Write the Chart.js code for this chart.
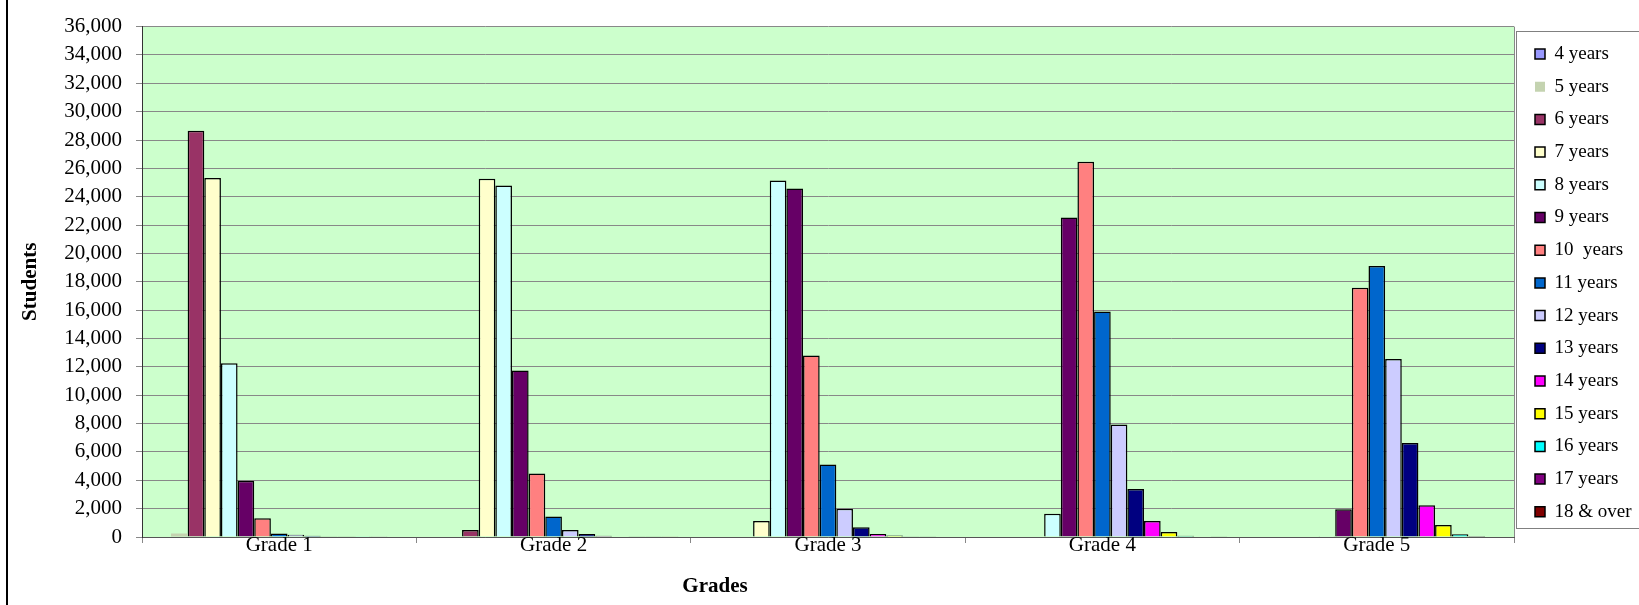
<!DOCTYPE html>
<html>
<head>
<meta charset="utf-8">
<title>Students by grade and age</title>
<script src="https://cdn.jsdelivr.net/npm/chart.js@4.4.1/dist/chart.umd.min.js"></script>
<style>
  html, body { margin: 0; padding: 0; background: #fff; overflow: hidden; }
  #wrap { position: relative; width: 1639px; height: 605px; }
  #edge { position: absolute; left: 6px; top: 0; width: 2px; height: 605px; background: #000; }
</style>
</head>
<body>
<div id="wrap">
  <canvas id="chart" width="1639" height="605"></canvas>
  <div id="edge"></div>
</div>
<script>
// categories
const grades = ['Grade 1', 'Grade 2', 'Grade 3', 'Grade 4', 'Grade 5'];
const ageLabels = ['4 years', '5 years', '6 years', '7 years', '8 years', '9 years', '10  years',
  '11 years', '12 years', '13 years', '14 years', '15 years', '16 years', '17 years', '18 & over'];

// students per grade, one array per age group
const age4  = [0, 0, 0, 0, 0];
const age5  = [250, 0, 0, 0, 0];
const age6  = [28650, 490, 30, 0, 30];
const age7  = [25330, 25260, 1120, 40, 30];
const age8  = [12250, 24800, 25140, 1640, 60];
const age9  = [3970, 11740, 24580, 22530, 1960];
const age10 = [1330, 4480, 12810, 26470, 17580];
const age11 = [250, 1450, 5110, 15900, 19120];
const age12 = [160, 490, 1990, 7940, 12560];
const age13 = [90, 210, 680, 3390, 6630];
const age14 = [50, 80, 210, 1120, 2240];
const age15 = [20, 30, 100, 350, 840];
const age16 = [10, 20, 50, 80, 190];
const age17 = [60, 20, 20, 30, 70];
const age18 = [0, 10, 0, 20, 30];

// y axis range
const yMax = 36000;
const yStep = 2000;

const series = [age4, age5, age6, age7, age8, age9, age10, age11, age12, age13, age14, age15, age16, age17, age18];
const colors = ['#9999FF', '#C4D3B0', '#993366', '#FFFFCC', '#CCFFFF', '#660066', '#FF8080',
  '#0066CC', '#CCCCFF', '#000080', '#FF00FF', '#FFFF00', '#00FFFF', '#800080', '#800000'];

Chart.defaults.font.family = "'Liberation Serif', 'Times New Roman', serif";
Chart.defaults.font.size = 21;
Chart.defaults.color = '#000';

// green plot area, right border, legend frame
const plotBackground = {
  id: 'plotBackground',
  beforeDraw(chart) {
    const { ctx, chartArea: a } = chart;
    ctx.save();
    ctx.fillStyle = '#CCFFCC';
    ctx.fillRect(a.left, a.top, a.right - a.left, a.bottom - a.top);
    ctx.strokeStyle = '#888888';
    ctx.lineWidth = 1;
    ctx.beginPath();
    ctx.moveTo(Math.round(a.right) + 0.5, a.top);
    ctx.lineTo(Math.round(a.right) + 0.5, a.bottom);
    ctx.stroke();

    ctx.fillStyle = '#fff';
    ctx.fillRect(a.right + 2, 31, chart.width, 497);
    ctx.strokeStyle = '#808080';
    ctx.strokeRect(Math.round(a.right) + 2.5, 31.5, chart.width, 497);
    ctx.restore();
  }
};

// move legend next to the plot, like the spreadsheet does
const legendPlace = {
  id: 'legendPlace',
  afterLayout(chart) {
    const l = chart.legend;
    l.left = chart.chartArea.right + 7.3;
    l.right = chart.width;
    l.width = l.right - l.left;
    const dy = 30.8 - l.top;
    l.top += dy; l.bottom += dy;
  }
};

// x axis title sits left of centre in the original
const xTitle = {
  id: 'xTitle',
  afterDraw(chart) {
    const { ctx } = chart;
    ctx.save();
    ctx.font = "bold 21px 'Liberation Serif', 'Times New Roman', serif";
    ctx.fillStyle = '#000';
    ctx.textAlign = 'center';
    ctx.textBaseline = 'middle';
    ctx.fillText('Grades', 715, 587);
    ctx.restore();
  }
};

new Chart(document.getElementById('chart'), {
  type: 'bar',
  data: {
    labels: grades,
    datasets: ageLabels.map((label, i) => ({
      label,
      data: series[i],
      backgroundColor: colors[i],
      borderColor: '#000',
      borderWidth: i === 1 ? 0 : 1.5,
      categoryPercentage: 0.91,
      barPercentage: 1.0
    }))
  },
  options: {
    responsive: false,
    animation: false,
    layout: { padding: { left: 10, right: 25, top: 22, bottom: 0 } },
    scales: {
      x: {
        ticks: { color: '#000', padding: -10 },
        grid: { drawOnChartArea: false, drawTicks: true, tickLength: 6, color: '#888888', offset: true },
        border: { color: '#555555' },
        afterFit(axis) { axis.height = 68; }
      },
      y: {
        min: 0,
        max: yMax,
        ticks: {
          stepSize: yStep,
          autoSkip: false,
          color: '#000',
          padding: 14,
          callback: v => v.toLocaleString('en-US')
        },
        grid: { color: '#888888', tickLength: 6, lineWidth: 1 },
        border: { color: '#333333' },
        title: {
          display: true,
          text: 'Students',
          color: '#000',
          font: { size: 21, weight: 'bold' },
          padding: { top: 8, bottom: 0 }
        },
        afterFit(axis) { axis.width = 132; }
      }
    },
    plugins: {
      legend: {
        position: 'right',
        align: 'start',
        maxWidth: 100,
        labels: { boxWidth: 10, boxHeight: 10, padding: 13.7, color: '#000', font: { size: 19 } }
      },
      tooltip: { enabled: false }
    }
  },
  plugins: [plotBackground, legendPlace, xTitle]
});
</script>
</body>
</html>
